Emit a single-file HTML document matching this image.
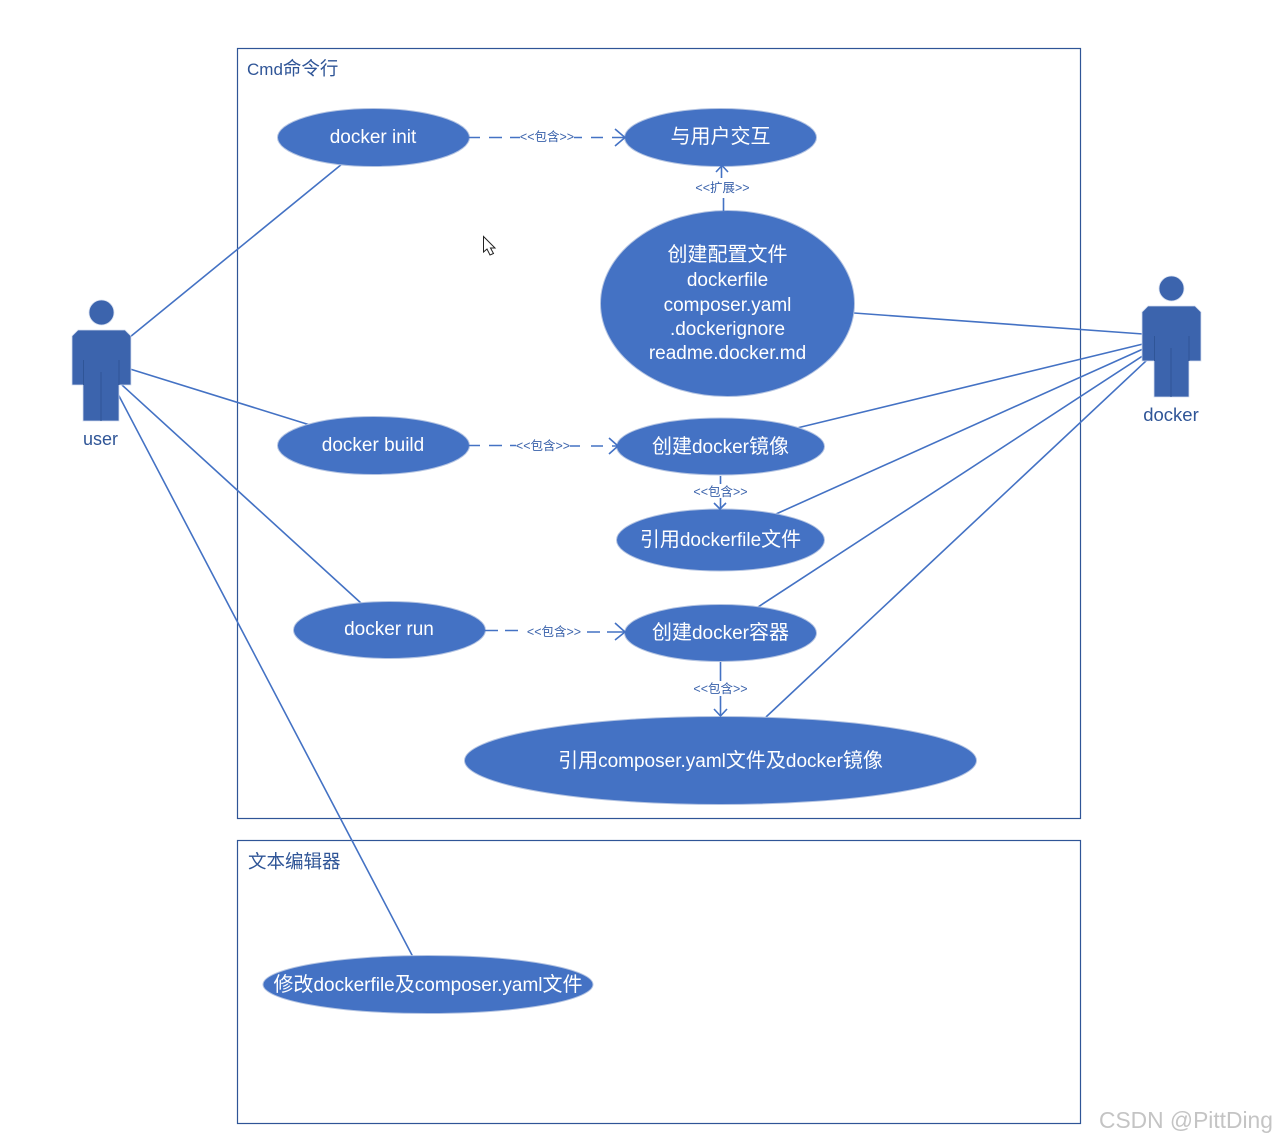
<!DOCTYPE html>
<html><head><meta charset="utf-8"><style>
html,body{margin:0;padding:0;background:#fff;width:1276px;height:1141px;overflow:hidden}
svg{display:block}
text{font-family:"Liberation Sans","Noto Sans CJK SC",sans-serif}
.w{fill:#fff;font-size:19px;text-anchor:middle}
.w tspan{font-size:20px}
.s{fill:#3a62ab;font-size:12.5px;text-anchor:middle}
.t{fill:#2f5597;font-size:17px}
.t tspan{font-size:18.5px}
.e{fill:#4472c4;stroke:#b4c4e2;stroke-width:1}
.l{stroke:#4472c4;stroke-width:1.6;fill:none}
.b{fill:#fff;stroke:#2f5597;stroke-width:1.2}
</style></head><body>
<svg width="1276" height="1141" viewBox="0 0 1276 1141" xmlns="http://www.w3.org/2000/svg">
<rect class="b" x="237.5" y="48.5" width="843" height="770"/>
<rect class="b" x="237.5" y="840.5" width="843" height="283"/>
<text class="t" x="247" y="75">Cmd<tspan>命令行</tspan></text>
<text class="t" x="248" y="868"><tspan>文本编辑器</tspan></text>

<!-- user lines -->
<path class="l" d="M130 337L342 164M130 369L310 425M122 385L362 604M118 394L413 957"/>
<!-- docker lines -->
<path class="l" d="M854 313L1143 334M797 428L1143 344M776 514L1143 349M758 607L1144 355M766 717L1147 360"/>

<!-- ellipses -->
<ellipse class="e" cx="373.500" cy="137.500" rx="96" ry="29"/>
<ellipse class="e" cx="720.500" cy="137.500" rx="96" ry="29"/>
<ellipse class="e" cx="727.500" cy="303.500" rx="127" ry="93"/>
<ellipse class="e" cx="373.500" cy="445.500" rx="96" ry="29"/>
<ellipse class="e" cx="720.500" cy="446.500" rx="104" ry="28.500"/>
<ellipse class="e" cx="720.500" cy="540" rx="104" ry="31"/>
<ellipse class="e" cx="389.500" cy="630" rx="96" ry="28.500"/>
<ellipse class="e" cx="720.500" cy="633" rx="96" ry="28.500"/>
<ellipse class="e" cx="720.500" cy="760.500" rx="256" ry="44"/>
<ellipse class="e" cx="428" cy="984.500" rx="165" ry="29"/>

<!-- dashed connectors -->
<path class="l" d="M469 137.500H480M489 137.500H502M510 137.500H520M574 137.500H582M591 137.500H603M612 137.500H624"/>
<path class="l" d="M615 129L625 137.500L615 146"/>
<path class="l" d="M469 445.500H480M489 445.500H502M510 445.500H516M570 446H580M591 446H603M612 446H617"/>
<path class="l" d="M609 438L618 446L609 454"/>
<path class="l" d="M485 630.500H498M505 630.500H518M587 632H600M607 632H624"/>
<path class="l" d="M615 623L625 632L615 640"/>
<path class="l" d="M723.500 211V198M721.500 178V166"/>
<path class="l" d="M716 172L722 165.500L728 172"/>
<path class="l" d="M720.500 476V484M720.500 498V509"/>
<path class="l" d="M714 503L720 509L726 503"/>
<path class="l" d="M720.500 662V681M720.500 696V716"/>
<path class="l" d="M714 709L720.500 716L727 709"/>

<!-- connector labels -->
<text class="s" x="547" y="141">&lt;&lt;包含&gt;&gt;</text>
<text class="s" x="543" y="450">&lt;&lt;包含&gt;&gt;</text>
<text class="s" x="554" y="636">&lt;&lt;包含&gt;&gt;</text>
<text class="s" x="722.500" y="192">&lt;&lt;扩展&gt;&gt;</text>
<text class="s" x="720.500" y="496">&lt;&lt;包含&gt;&gt;</text>
<text class="s" x="720.500" y="693">&lt;&lt;包含&gt;&gt;</text>

<!-- ellipse text -->
<text class="w" x="373" y="143">docker init</text>
<text class="w" x="720.500" y="143"><tspan>与用户交互</tspan></text>
<text class="w" x="727.500" y="261"><tspan>创建配置文件</tspan></text>
<text class="w" x="727.500" y="286">dockerfile</text>
<text class="w" x="727.500" y="311">composer.yaml</text>
<text class="w" x="727.500" y="335">.dockerignore</text>
<text class="w" x="727.500" y="359">readme.docker.md</text>
<text class="w" x="373" y="451">docker build</text>
<text class="w" x="720.500" y="453"><tspan>创建</tspan>docker<tspan>镜像</tspan></text>
<text class="w" x="720.500" y="546"><tspan>引用</tspan>dockerfile<tspan>文件</tspan></text>
<text class="w" x="389" y="635">docker run</text>
<text class="w" x="720.500" y="639"><tspan>创建</tspan>docker<tspan>容器</tspan></text>
<text class="w" x="720.500" y="767"><tspan>引用</tspan>composer.yaml<tspan>文件及</tspan>docker<tspan>镜像</tspan></text>
<text class="w" x="428" y="991"><tspan>修改</tspan>dockerfile<tspan>及</tspan>composer.yaml<tspan>文件</tspan></text>

<!-- actors -->
<g>
<circle cx="101.500" cy="312.500" r="12.500" fill="#3c64ad" stroke="#d5deef" stroke-width=".8"/>
<path d="M78 330H125L131 336V385H119V421H83V385H72V336Z" fill="#3c64ad" stroke="#d5deef" stroke-width=".8"/>
<path d="M83.500 360V385M119 360V385M101 372V421" stroke="#2f5597" stroke-width="1" fill="none"/>
</g>
<g transform="translate(1070,-24)">
<circle cx="101.500" cy="312.500" r="12.500" fill="#3c64ad" stroke="#d5deef" stroke-width=".8"/>
<path d="M78 330H125L131 336V385H119V421H84V385H72V336Z" fill="#3c64ad" stroke="#d5deef" stroke-width=".8"/>
<path d="M84.500 360V385M119 360V385M101 372V421" stroke="#2f5597" stroke-width="1" fill="none"/>
</g>
<text x="100.500" y="445" fill="#2f5597" font-size="18" text-anchor="middle">user</text>
<text x="1171" y="421" fill="#2f5597" font-size="18.500" text-anchor="middle">docker</text>

<!-- cursor -->
<path d="M483.500 236.500V252L487 249L490 255L493.500 253.500L490.500 248H495Z" fill="#fff" stroke="#222" stroke-width="1"/>

<!-- watermark -->
<text x="1099" y="1128" fill="#c4c4c4" font-size="22.800">CSDN @PittDing</text>
</svg>
</body></html>
